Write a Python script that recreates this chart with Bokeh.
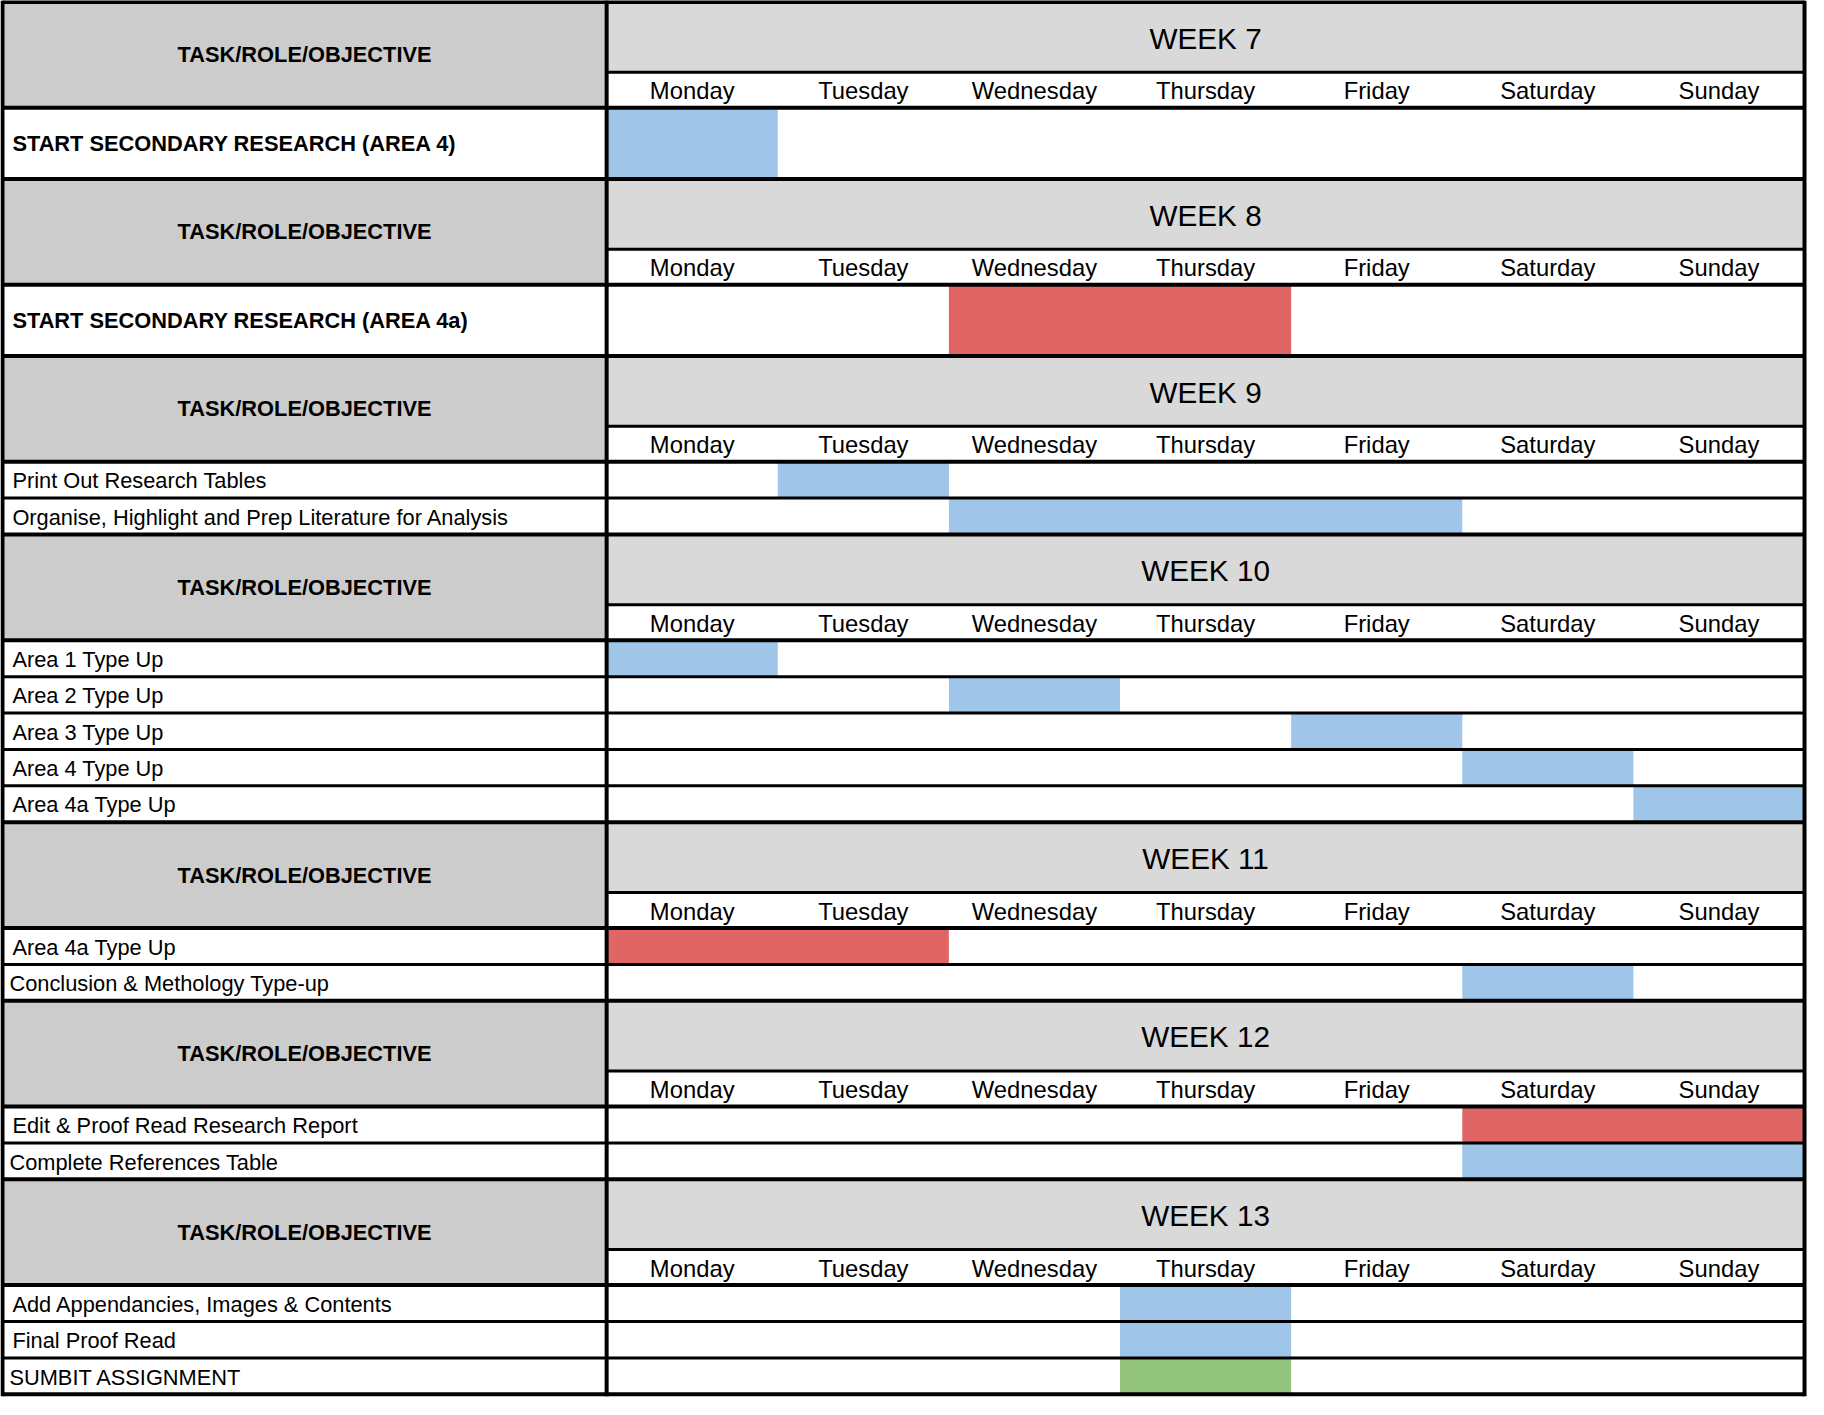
from bokeh.plotting import figure
from bokeh.models import Range1d, ColumnDataSource
from bokeh.core.properties import value
from bokeh.embed import file_html
from bokeh.resources import INLINE

# ---------------- data ----------------
weeks = ["WEEK 7", "WEEK 8", "WEEK 9", "WEEK 10", "WEEK 11", "WEEK 12", "WEEK 13"]
days = ["Monday", "Tuesday", "Wednesday", "Thursday", "Friday", "Saturday", "Sunday"]
header_label = "TASK/ROLE/OBJECTIVE"

task_week = ["WEEK 7", "WEEK 8", "WEEK 9", "WEEK 9",
             "WEEK 10", "WEEK 10", "WEEK 10", "WEEK 10", "WEEK 10",
             "WEEK 11", "WEEK 11", "WEEK 12", "WEEK 12",
             "WEEK 13", "WEEK 13", "WEEK 13"]
task_names = ["START SECONDARY RESEARCH (AREA 4)",
              "START SECONDARY RESEARCH (AREA 4a)",
              "Print Out Research Tables",
              "Organise, Highlight and Prep Literature for Analysis",
              "Area 1 Type Up", "Area 2 Type Up", "Area 3 Type Up",
              "Area 4 Type Up", "Area 4a Type Up",
              "Area 4a Type Up", "Conclusion & Methology Type-up",
              "Edit & Proof Read Research Report", "Complete References Table",
              "Add Appendancies, Images & Contents", "Final Proof Read",
              "SUMBIT ASSIGNMENT"]
task_start_day = ["Monday", "Wednesday", "Tuesday", "Wednesday",
                  "Monday", "Wednesday", "Friday", "Saturday", "Sunday",
                  "Monday", "Saturday", "Saturday", "Saturday",
                  "Thursday", "Thursday", "Thursday"]
task_duration = [1, 2, 1, 3, 1, 1, 1, 1, 1, 2, 1, 2, 2, 1, 1, 1]
task_status = ["planned", "critical", "planned", "planned",
               "planned", "planned", "planned", "planned", "planned",
               "critical", "planned", "critical", "planned",
               "planned", "planned", "deadline"]
task_major = [True, True] + [False] * 14

# ---------------- style / layout ----------------
status_color = {"planned": "#9FC5E8", "critical": "#E06666", "deadline": "#93C47D"}
LEFT_GRAY = "#CCCCCC"
TITLE_GRAY = "#D9D9D9"
FONT = "Liberation Sans"

W_REF, H_REF = 1824, 1415
PW, PH = 1808, 1399
FS = PW / W_REF

X_LEFT, X_DIV, X_RIGHT = 2.0, 611.5, 1820.0
DAY_W = (X_RIGHT - X_DIV) / 7
TITLE_H, DAY_H, BIG_H, ROW_H = 71.0, 36.0, 72.0, 36.8
Y0 = 1.5
outdent = {"Conclusion & Methology Type-up": 3, "Complete References Table": 3,
           "SUMBIT ASSIGNMENT": 3}

p = figure(width=PW, height=PH, x_range=Range1d(0, W_REF), y_range=Range1d(H_REF, 0),
           output_backend="svg", toolbar_location=None, min_border=0,
           background_fill_color="white", border_fill_color="white")
p.axis.visible = False
p.grid.visible = False
p.outline_line_color = None

fills = dict(l=[], r=[], t=[], b=[], c=[])
lines = dict(x0=[], x1=[], y0=[], y1=[], w=[])
txt_norm = dict(x=[], y=[], t=[])
txt_bold_c = dict(x=[], y=[], t=[])
txt_bold_l = dict(x=[], y=[], t=[])
txt_day = dict(x=[], y=[], t=[])
txt_week = dict(x=[], y=[], t=[])


def add_fill(l, r, t, b, c):
    fills["l"].append(l); fills["r"].append(r)
    fills["t"].append(t); fills["b"].append(b); fills["c"].append(c)


def add_line(x0, x1, y0, y1, w):
    lines["x0"].append(x0); lines["x1"].append(x1)
    lines["y0"].append(y0); lines["y1"].append(y1); lines["w"].append(w)


y = Y0
for wk in weeks:
    hdr_h = TITLE_H + DAY_H
    add_fill(X_LEFT, X_DIV, y, y + hdr_h, LEFT_GRAY)
    add_fill(X_DIV, X_RIGHT, y, y + TITLE_H, TITLE_GRAY)
    add_line(X_LEFT, X_RIGHT, y, y, 4)
    add_line(X_DIV, X_RIGHT, y + TITLE_H, y + TITLE_H, 3)
    txt_bold_c["x"].append((X_LEFT + X_DIV) / 2); txt_bold_c["y"].append(y + hdr_h / 2)
    txt_bold_c["t"].append(header_label)
    txt_week["x"].append((X_DIV + X_RIGHT) / 2); txt_week["y"].append(y + TITLE_H / 2 + 1)
    txt_week["t"].append(wk)
    for i, d in enumerate(days):
        txt_day["x"].append(X_DIV + (i + 0.5) * DAY_W)
        txt_day["y"].append(y + TITLE_H + DAY_H / 2 + 1)
        txt_day["t"].append(d)
    y += hdr_h
    first = True
    for k, name in enumerate(task_names):
        if task_week[k] != wk:
            continue
        h = BIG_H if task_major[k] else ROW_H
        add_line(X_LEFT, X_RIGHT, y, y, 4 if first else 3)
        first = False
        s = days.index(task_start_day[k])
        add_fill(X_DIV + s * DAY_W, X_DIV + (s + task_duration[k]) * DAY_W, y, y + h,
                 status_color[task_status[k]])
        tx = 12 - outdent.get(name, 0)
        if task_major[k]:
            txt_bold_l["x"].append(tx); txt_bold_l["y"].append(y + h / 2)
            txt_bold_l["t"].append(name)
        else:
            txt_norm["x"].append(tx); txt_norm["y"].append(y + h / 2 + 1)
            txt_norm["t"].append(name)
        y += h
Y_END = y
add_line(X_LEFT, X_RIGHT, Y_END, Y_END, 4)
for xv in (X_LEFT, X_DIV, X_RIGHT):
    add_line(xv, xv, Y0 - 1.5, Y_END + 2, 4)

p.quad(left="l", right="r", top="t", bottom="b", fill_color="c", line_color=None,
       source=ColumnDataSource(fills))
p.segment(x0="x0", x1="x1", y0="y0", y1="y1", line_width="w", line_color="black",
          source=ColumnDataSource(lines))


def add_text(d, size, style, align):
    p.text(x="x", y="y", text="t", source=ColumnDataSource(d),
           text_font=value(FONT), text_font_size=f"{size * FS:.1f}px",
           text_font_style=style, text_align=align, text_baseline="middle",
           text_color="black")


add_text(txt_norm, 22, "normal", "left")
add_text(txt_bold_l, 22, "bold", "left")
add_text(txt_bold_c, 22, "bold", "center")
add_text(txt_day, 24, "normal", "center")
add_text(txt_week, 30, "normal", "center")

open("out.html", "w").write(file_html(p, INLINE))
